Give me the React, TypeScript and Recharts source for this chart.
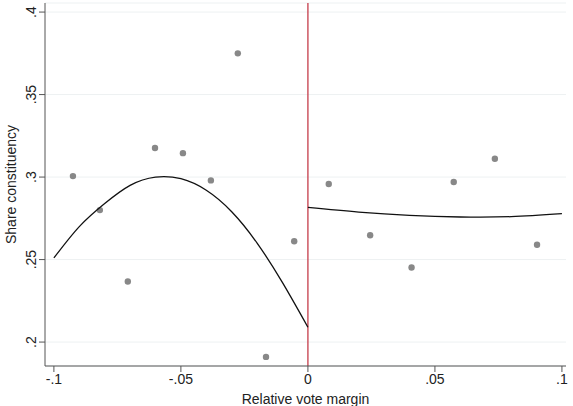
import { ScatterChart, Scatter, XAxis, YAxis, CartesianGrid, ReferenceLine } from "recharts";

// binned means
const binX = [-0.0925, -0.0819, -0.0709, -0.0602, -0.0492, -0.0382, -0.0276, -0.0165, -0.0054, 0.0082, 0.0245, 0.0408, 0.0574, 0.0736, 0.0902];
const binY = [0.3006, 0.28, 0.2367, 0.3176, 0.3145, 0.298, 0.375, 0.191, 0.2611, 0.2958, 0.2647, 0.2452, 0.297, 0.3111, 0.259];

// fitted curves
const leftX = [-0.1, -0.09, -0.08, -0.07, -0.06, -0.05, -0.04, -0.03, -0.02, -0.01, 0];
const leftY = [0.251, 0.27, 0.284, 0.295, 0.3, 0.299, 0.292, 0.279, 0.26, 0.236, 0.209];
const rightX = [0, 0.02, 0.04, 0.06, 0.08, 0.1];
const rightY = [0.2816, 0.2788, 0.2768, 0.2758, 0.276, 0.2778];

const xTicks = [-0.1, -0.05, 0, 0.05, 0.1];
const yTicks = [0.2, 0.25, 0.3, 0.35, 0.4];

const bins = binX.map((x, i) => ({ x, y: binY[i] }));
const leftFit = leftX.map((x, i) => ({ x, y: leftY[i] }));
const rightFit = rightX.map((x, i) => ({ x, y: rightY[i] }));

const fmt = (v: number) => (v === 0 ? "0" : String(v).replace("0.", "."));
const font = "'Liberation Sans', Arial, sans-serif";

const YTick = ({ x, y, payload }: any) => (
  <text
    transform={`translate(${x - 6},${y}) rotate(-90)`}
    textAnchor="middle"
    dominantBaseline="central"
    fontSize={14}
    fontFamily={font}
    fill="#222"
  >
    {fmt(payload.value)}
  </text>
);

const XTick = ({ x, y, payload }: any) => (
  <text x={x} y={y + 10} textAnchor="middle" fontSize={14} fontFamily={font} fill="#222">
    {fmt(payload.value)}
  </text>
);

const YTitle = ({ viewBox }: any) => (
  <text
    transform={`translate(11,${viewBox.y + viewBox.height / 2}) rotate(-90)`}
    textAnchor="middle"
    dominantBaseline="central"
    fontSize={14}
    fontFamily={font}
    fill="#222"
  >
    Share constituency
  </text>
);

const noDot = () => <g />;

export default function App() {
  return (
    <div style={{ position: "absolute", left: 0, top: 0, background: "#fff" }}>
      <ScatterChart width={573} height={406} margin={{ top: 3, right: 7, bottom: 0, left: 0 }}>
        <CartesianGrid vertical={false} stroke="#edf1f2" />
        <XAxis
          type="number"
          dataKey="x"
          domain={[-0.1035, 0.1016]}
          ticks={xTicks}
          tick={<XTick />}
          tickSize={6}
          height={40}
          stroke="#555"
          label={{ value: "Relative vote margin", position: "insideBottom", offset: 2, fontSize: 14, fontFamily: font, fill: "#222" }}
        />
        <YAxis
          type="number"
          dataKey="y"
          domain={[0.1855, 0.4055]}
          ticks={yTicks}
          tick={<YTick />}
          tickSize={6}
          width={45}
          stroke="#555"
          label={{ content: <YTitle /> }}
        />
        <ReferenceLine x={0} stroke="#c53c4a" strokeWidth={1.3} />
        <Scatter data={bins} fill="#888" isAnimationActive={false} shape={(p: any) => <circle cx={p.cx} cy={p.cy} r={3.2} fill="#888" />} />
        <Scatter data={leftFit} line={{ stroke: "#111", strokeWidth: 1.3 }} lineJointType="natural" shape={noDot} isAnimationActive={false} />
        <Scatter data={rightFit} line={{ stroke: "#111", strokeWidth: 1.3 }} lineJointType="natural" shape={noDot} isAnimationActive={false} />
      </ScatterChart>
    </div>
  );
}
